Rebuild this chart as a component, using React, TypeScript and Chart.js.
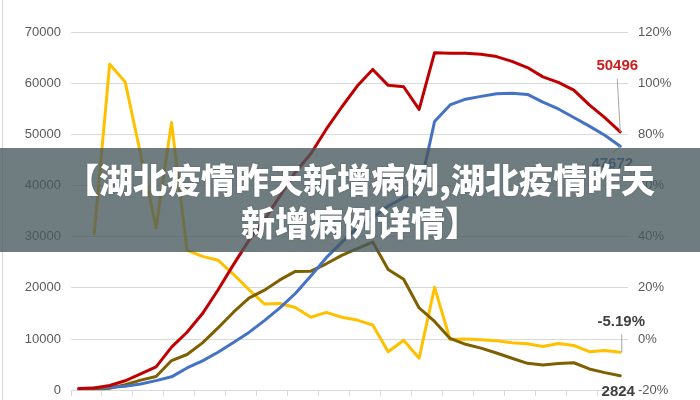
import React, { useEffect, useRef } from "react";
import { Chart, registerables } from "chart.js";

Chart.register(...registerables);

// ---- data ----
const dates = [
  "1/20", "1/21", "1/22", "1/23", "1/24", "1/25", "1/26", "1/27", "1/28", "1/29",
  "1/30", "1/31", "2/1", "2/2", "2/3", "2/4", "2/5", "2/6", "2/7", "2/8",
  "2/9", "2/10", "2/11", "2/12", "2/13", "2/14", "2/15", "2/16", "2/17", "2/18",
  "2/19", "2/20", "2/21", "2/22", "2/23", "2/24",
];

// total = existing confirmed + suspected (red)
const totalCases = [
  314, 443, 919, 1843, 3173, 4554, 8407, 11322, 14978, 19584,
  24546, 29277, 33292, 37927, 42595, 46202, 51004, 55344, 59431, 62680,
  59571, 59301, 54867, 65961, 65857, 65842, 65644, 65198, 64258, 63053,
  61225, 60171, 58649, 55754, 53258, 50496,
];

// existing confirmed (blue)
const existingConfirmed = [
  260, 406, 526, 771, 1208, 1870, 2613, 4349, 5739, 7417,
  9308, 11289, 13600, 16100, 18900, 22300, 25900, 28900, 31774, 33738,
  35982, 37626, 38800, 52526, 55748, 56873, 57416, 57934, 58016, 57805,
  56303, 54965, 53284, 51606, 49824, 47672,
];

// suspected (olive)
const suspected = [
  54, 37, 393, 1072, 1965, 2684, 5794, 6973, 9239, 12167,
  15238, 17988, 19544, 21558, 23214, 23260, 24702, 26359, 27657, 28942,
  23589, 21675, 16067, 13435, 10109, 8969, 8228, 7264, 6242, 5248,
  4922, 5206, 5365, 4148, 3434, 2824,
];

// day-over-day change of total, % (yellow, right axis)
const dailyChangePct: (number | null)[] = [
  null, 41.1, 107.4, 100.5, 72.2, 43.5, 84.6, 34.7, 32.3, 30.8,
  25.3, 19.3, 13.7, 13.9, 12.3, 8.5, 10.4, 8.5, 7.4, 5.5,
  -5.0, -0.45, -7.5, 20.2, -0.16, -0.02, -0.3, -0.68, -1.44, -1.88,
  -2.9, -1.72, -2.53, -4.94, -4.48, -5.19,
];

const leftTicks = [0, 10000, 20000, 30000, 40000, 50000, 60000, 70000];
const rightTicks = [-20, 0, 20, 40, 60, 80, 100, 120];

const titleLines = ["【湖北疫情昨天新增病例,湖北疫情昨天", "新增病例详情】"];

const RED = "#C00000";
const BLUE = "#4472C4";
const OLIVE = "#7F6000";
const YELLOW = "#FFC000";
const GRID = "#D9D9D9";
const TICK_TEXT = "#595959";
const FONT = '"Liberation Sans", Arial, sans-serif';

const endLabels = {
  id: "endLabels",
  afterDatasetsDraw(chart: any) {
    const ctx = chart.ctx;
    const xs = chart.scales.x;
    const yl = chart.scales.y;
    const yr = chart.scales.y1;
    const last = dates.length - 1;
    const px = xs.getPixelForValue(last);

    const leader = (x1: number, y1: number, x2: number, y2: number) => {
      ctx.beginPath();
      ctx.moveTo(x1, y1);
      ctx.lineTo(x2, y2);
      ctx.strokeStyle = "#A6A6A6";
      ctx.lineWidth = 1;
      ctx.stroke();
    };
    const text = (s: string, x: number, y: number, color: string) => {
      ctx.fillStyle = color;
      ctx.fillText(s, x, y);
    };

    ctx.save();
    ctx.font = `bold 15px ${FONT}`;
    ctx.textAlign = "center";
    ctx.textBaseline = "middle";

    const pr = yl.getPixelForValue(totalCases[last]);
    leader(px, pr, px - 3, pr - 53);
    text(String(totalCases[last]), px - 3, pr - 66, "#C81E1E");

    const pb = yl.getPixelForValue(existingConfirmed[last]);
    leader(px, pb, px - 8, pb + 7);
    text(String(existingConfirmed[last]), px - 8, pb + 18, "#3B5E9E");

    const py = yr.getPixelForValue(dailyChangePct[last] as number);
    leader(px + 1.5, py, px + 1.5, py - 18);
    text(`${(dailyChangePct[last] as number).toFixed(2)}%`, px + 1, py - 30, "#404040");

    const po = yl.getPixelForValue(suspected[last]);
    text(String(suspected[last]), px - 2, po + 16, "#404040");

    ctx.restore();
  },
};

export default function App() {
  const canvasRef = useRef<HTMLCanvasElement | null>(null);

  useEffect(() => {
    document.body.style.margin = "0";
    const canvas = canvasRef.current;
    if (!canvas) return;

    const lineDs = (label: string, data: (number | null)[], color: string, axis: string) => ({
      label,
      data,
      borderColor: color,
      backgroundColor: color,
      borderWidth: 3,
      pointRadius: 0,
      tension: 0,
      fill: false,
      borderJoinStyle: "round" as const,
      borderCapStyle: "round" as const,
      yAxisID: axis,
    });

    const chart = new Chart(canvas, {
      type: "line",
      data: {
        labels: dates,
        datasets: [
          lineDs("现有确诊+疑似", totalCases, RED, "y"),
          lineDs("现有确诊", existingConfirmed, BLUE, "y"),
          lineDs("现有疑似", suspected, OLIVE, "y"),
          lineDs("环比增长", dailyChangePct, YELLOW, "y1"),
        ],
      },
      options: {
        responsive: false,
        animation: false,
        events: [],
        layout: { padding: { top: 32, bottom: 0, left: 0, right: 0 } },
        plugins: {
          legend: { display: false },
          tooltip: { enabled: false },
          title: { display: false },
        },
        scales: {
          x: {
            type: "category",
            offset: true,
            ticks: { display: false },
            grid: {
              offset: true,
              drawOnChartArea: false,
              drawTicks: true,
              tickLength: 6,
              color: (c: any) =>
                c.index === undefined || c.index % 2 === 0 ? GRID : "rgba(0,0,0,0)",
            },
            border: { display: true, color: GRID },
            afterFit: (s: any) => {
              s.height = 3;
            },
          },
          y: {
            position: "left",
            min: 0,
            max: 70000,
            afterBuildTicks: (s: any) => {
              s.ticks = leftTicks.map((v) => ({ value: v }));
            },
            ticks: {
              padding: 10,
              color: TICK_TEXT,
              font: { family: FONT, size: 13 },
              callback: (v: any) => String(v),
            },
            grid: { color: GRID, lineWidth: 1, drawTicks: false },
            border: { display: false },
            afterFit: (s: any) => {
              s.width = 71;
            },
          },
          y1: {
            position: "right",
            min: -20,
            max: 120,
            afterBuildTicks: (s: any) => {
              s.ticks = rightTicks.map((v) => ({ value: v }));
            },
            ticks: {
              padding: 10,
              color: TICK_TEXT,
              font: { family: FONT, size: 13 },
              callback: (v: any) => `${v}%`,
            },
            grid: { display: false, drawTicks: false },
            border: { display: false },
            afterFit: (s: any) => {
              s.width = 72;
            },
          },
        },
      },
      plugins: [endLabels],
    });

    return () => chart.destroy();
  }, []);

  return (
    <div
      style={{
        position: "fixed",
        left: 0,
        top: 0,
        width: 700,
        height: 400,
        background: "#ffffff",
        overflow: "hidden",
      }}
    >
      <canvas ref={canvasRef} width={700} height={408} style={{ display: "block" }} />
      <div
        style={{
          position: "absolute",
          left: 2,
          top: 0,
          width: 1,
          height: 400,
          background: GRID,
        }}
      />
      <div
        style={{
          position: "absolute",
          left: 0,
          top: 148,
          width: 700,
          height: 104,
          boxSizing: "border-box",
          paddingTop: 9,
          paddingLeft: 20,
          background: "rgba(70,88,93,0.78)",
          color: "#ffffff",
          fontFamily: '"Noto Sans CJK SC", "Noto Sans", sans-serif',
          fontWeight: 900,
          fontSize: 34,
          lineHeight: "43px",
          textAlign: "center",
          whiteSpace: "nowrap",
          textShadow: "0 0 2px rgba(0,0,0,0.25)",
        }}
      >
        {titleLines.map((t, i) => (
          <div key={i}>{t}</div>
        ))}
      </div>
    </div>
  );
}
